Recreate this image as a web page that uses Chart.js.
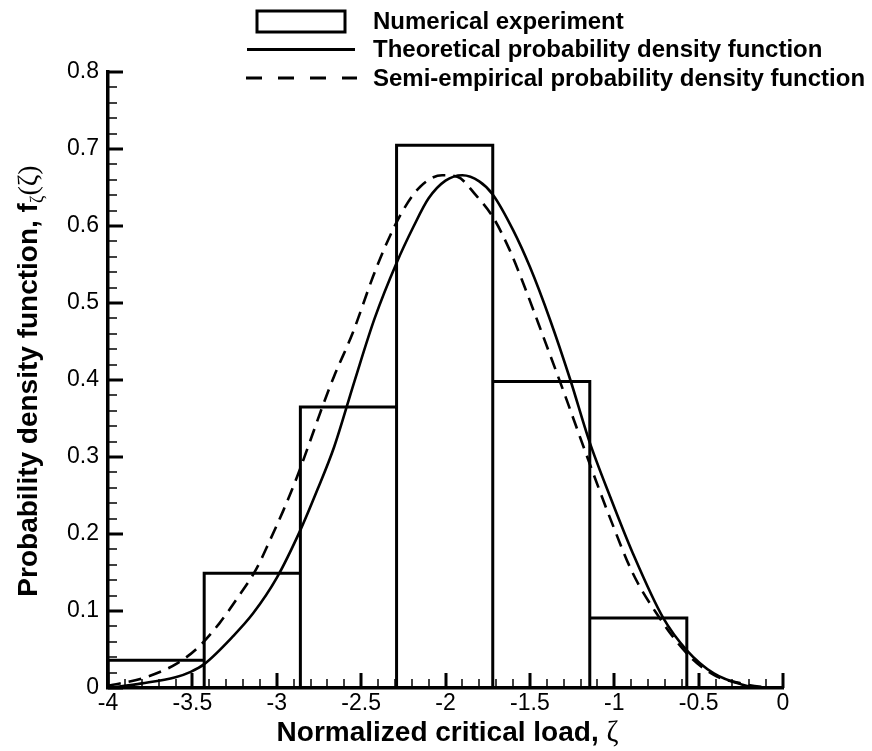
<!DOCTYPE html>
<html>
<head>
<meta charset="utf-8">
<script src="https://cdn.jsdelivr.net/npm/chart.js@4.4.1/dist/chart.umd.min.js"></script>
<style>
html, body { margin: 0; padding: 0; background: #fff; }
#wrap { width: 872px; height: 751px; position: relative; }
</style>
</head>
<body>
<div id="wrap"><canvas id="chart"></canvas></div>
<script>
// histogram of the numerical experiment
const binEdges = [-4.0, -3.43, -2.86, -2.29, -1.72, -1.145, -0.57];
const binHeights = [0.036, 0.149, 0.365, 0.705, 0.398, 0.091];

// theoretical pdf
const theoX = [-4.0, -3.8, -3.6, -3.51, -3.43, -3.26, -3.14, -3.0, -2.86, -2.76, -2.66, -2.54, -2.42, -2.29, -2.19, -2.1, -2.0, -1.9, -1.8, -1.72, -1.6, -1.5, -1.38, -1.26, -1.15, -1.02, -0.89, -0.71, -0.57, -0.41, -0.25, -0.12, 0];
const theoY = [0.0, 0.006, 0.014, 0.021, 0.031, 0.067, 0.097, 0.143, 0.205, 0.257, 0.313, 0.398, 0.48, 0.552, 0.599, 0.636, 0.659, 0.666, 0.658, 0.641, 0.595, 0.547, 0.478, 0.400, 0.322, 0.246, 0.175, 0.091, 0.049, 0.019, 0.005, 0.0, 0.0];

// semi-empirical pdf
const semiX = [-4.0, -3.79, -3.59, -3.46, -3.34, -3.22, -3.12, -3.04, -2.96, -2.88, -2.8, -2.73, -2.66, -2.55, -2.43, -2.35, -2.25, -2.15, -2.02, -1.93, -1.82, -1.72, -1.62, -1.54, -1.42, -1.3, -1.16, -1.02, -0.89, -0.75, -0.57, -0.41, -0.25, -0.1, 0];
const semiY = [0.003, 0.013, 0.032, 0.054, 0.084, 0.121, 0.155, 0.192, 0.231, 0.274, 0.322, 0.365, 0.405, 0.461, 0.534, 0.577, 0.621, 0.651, 0.666, 0.664, 0.640, 0.612, 0.569, 0.526, 0.456, 0.385, 0.300, 0.218, 0.149, 0.097, 0.045, 0.017, 0.006, 0.001, 0.0];

const xTicks = [-4, -3.5, -3, -2.5, -2, -1.5, -1, -0.5, 0];
const yTicks = [0, 0.1, 0.2, 0.3, 0.4, 0.5, 0.6, 0.7, 0.8];
const seriesNames = ['Numerical experiment', 'Theoretical probability density function', 'Semi-empirical probability density function'];

const sans = '"Liberation Sans", Arial, sans-serif';
const serif = '"Liberation Serif", "Times New Roman", serif';

const histPoints = [];
binHeights.forEach((h, i) => {
    histPoints.push({x: binEdges[i], y: 0}, {x: binEdges[i], y: h}, {x: binEdges[i + 1], y: h}, {x: binEdges[i + 1], y: 0});
});

function drawParts(ctx, parts, x, y) {
    let w = 0;
    parts.forEach(p => { ctx.font = p.font; w += ctx.measureText(p.text).width; });
    let cx = x - w / 2;
    parts.forEach(p => {
        ctx.font = p.font;
        ctx.fillText(p.text, cx, y + (p.dy || 0));
        cx += ctx.measureText(p.text).width;
    });
}

const decor = {
    id: 'decor',
    afterDraw(chart) {
        const {ctx, chartArea: a, scales: {x, y}} = chart;
        ctx.save();
        ctx.strokeStyle = '#000';
        ctx.fillStyle = '#000';

        // inward ticks, major + minor
        for (let i = 0; i <= 40; i++) {
            const major = i % 5 === 0;
            const px = Math.round(x.getPixelForValue(-4 + i * 0.1));
            ctx.lineWidth = major ? 3 : 1.5;
            ctx.beginPath();
            ctx.moveTo(px, a.bottom);
            ctx.lineTo(px, a.bottom - (major ? 15 : 9));
            ctx.stroke();
        }
        for (let i = 0; i <= 40; i++) {
            const major = i % 5 === 0;
            const py = Math.round(y.getPixelForValue(i * 0.02));
            ctx.lineWidth = major ? 3 : 1.5;
            ctx.beginPath();
            ctx.moveTo(a.left, py);
            ctx.lineTo(a.left + (major ? 15 : 9), py);
            ctx.stroke();
        }

        // axis titles
        ctx.textBaseline = 'alphabetic';
        drawParts(ctx, [
            {text: 'Normalized critical load, ', font: 'bold 28px ' + sans},
            {text: 'ζ', font: '29px ' + serif}
        ], (a.left + a.right) / 2 + 2, 741);

        ctx.save();
        ctx.translate(37, (a.top + a.bottom) / 2 + 1);
        ctx.rotate(-Math.PI / 2);
        drawParts(ctx, [
            {text: 'Probability density function, f', font: 'bold 28px ' + sans},
            {text: 'ζ', font: '18px ' + serif, dy: 6},
            {text: '(ζ)', font: '28px ' + serif}
        ], 0, 0);
        ctx.restore();

        // legend
        const ds = chart.data.datasets;
        const rows = [21, 49.5, 78];
        ctx.lineWidth = 3;
        ctx.strokeRect(257, 11, 88, 21);
        ctx.beginPath();
        ctx.moveTo(247, rows[1]);
        ctx.lineTo(355, rows[1]);
        ctx.stroke();
        ctx.setLineDash([16, 16]);
        ctx.beginPath();
        ctx.moveTo(246, rows[2]);
        ctx.lineTo(357, rows[2]);
        ctx.stroke();
        ctx.setLineDash([]);
        ctx.font = 'bold 24px ' + sans;
        ctx.textBaseline = 'middle';
        ds.forEach((d, i) => ctx.fillText(d.label, 373, rows[i] + 1));
        ctx.restore();
    }
};

new Chart(document.getElementById('chart'), {
    type: 'scatter',
    data: {
        datasets: [
            {
                label: seriesNames[0],
                data: histPoints,
                showLine: true,
                borderColor: '#000',
                borderWidth: 3,
                pointRadius: 0,
                tension: 0
            },
            {
                label: seriesNames[1],
                data: theoX.map((v, i) => ({x: v, y: theoY[i]})),
                showLine: true,
                borderColor: '#000',
                borderWidth: 2.6,
                pointRadius: 0,
                cubicInterpolationMode: 'monotone'
            },
            {
                label: seriesNames[2],
                data: semiX.map((v, i) => ({x: v, y: semiY[i]})),
                showLine: true,
                borderColor: '#000',
                borderWidth: 2.6,
                borderDash: [13, 8],
                pointRadius: 0,
                cubicInterpolationMode: 'monotone'
            }
        ]
    },
    options: {
        responsive: true,
        maintainAspectRatio: false,
        animation: false,
        devicePixelRatio: 1,
        layout: {padding: {top: 72, right: 89, left: 0, bottom: 0}},
        plugins: {legend: {display: false}, tooltip: {enabled: false}},
        scales: {
            x: {
                type: 'linear',
                min: -4,
                max: 0,
                afterBuildTicks: s => { s.ticks = xTicks.map(v => ({value: v})); },
                afterFit: s => { s.height = 63; },
                ticks: {
                    color: '#000',
                    font: {family: sans, size: 23},
                    padding: 2,
                    maxRotation: 0,
                    autoSkip: false,
                    callback: v => String(v)
                },
                grid: {display: false, drawTicks: false},
                border: {display: true, color: '#000', width: 3.5}
            },
            y: {
                min: 0,
                max: 0.8,
                afterBuildTicks: s => { s.ticks = yTicks.map(v => ({value: v})); },
                afterFit: s => { s.width = 108; },
                ticks: {
                    color: '#000',
                    font: {family: sans, size: 23},
                    padding: 9,
                    autoSkip: false,
                    callback: v => String(v)
                },
                grid: {display: false, drawTicks: false},
                border: {display: true, color: '#000', width: 3.5}
            }
        }
    },
    plugins: [decor]
});
</script>
</body>
</html>
